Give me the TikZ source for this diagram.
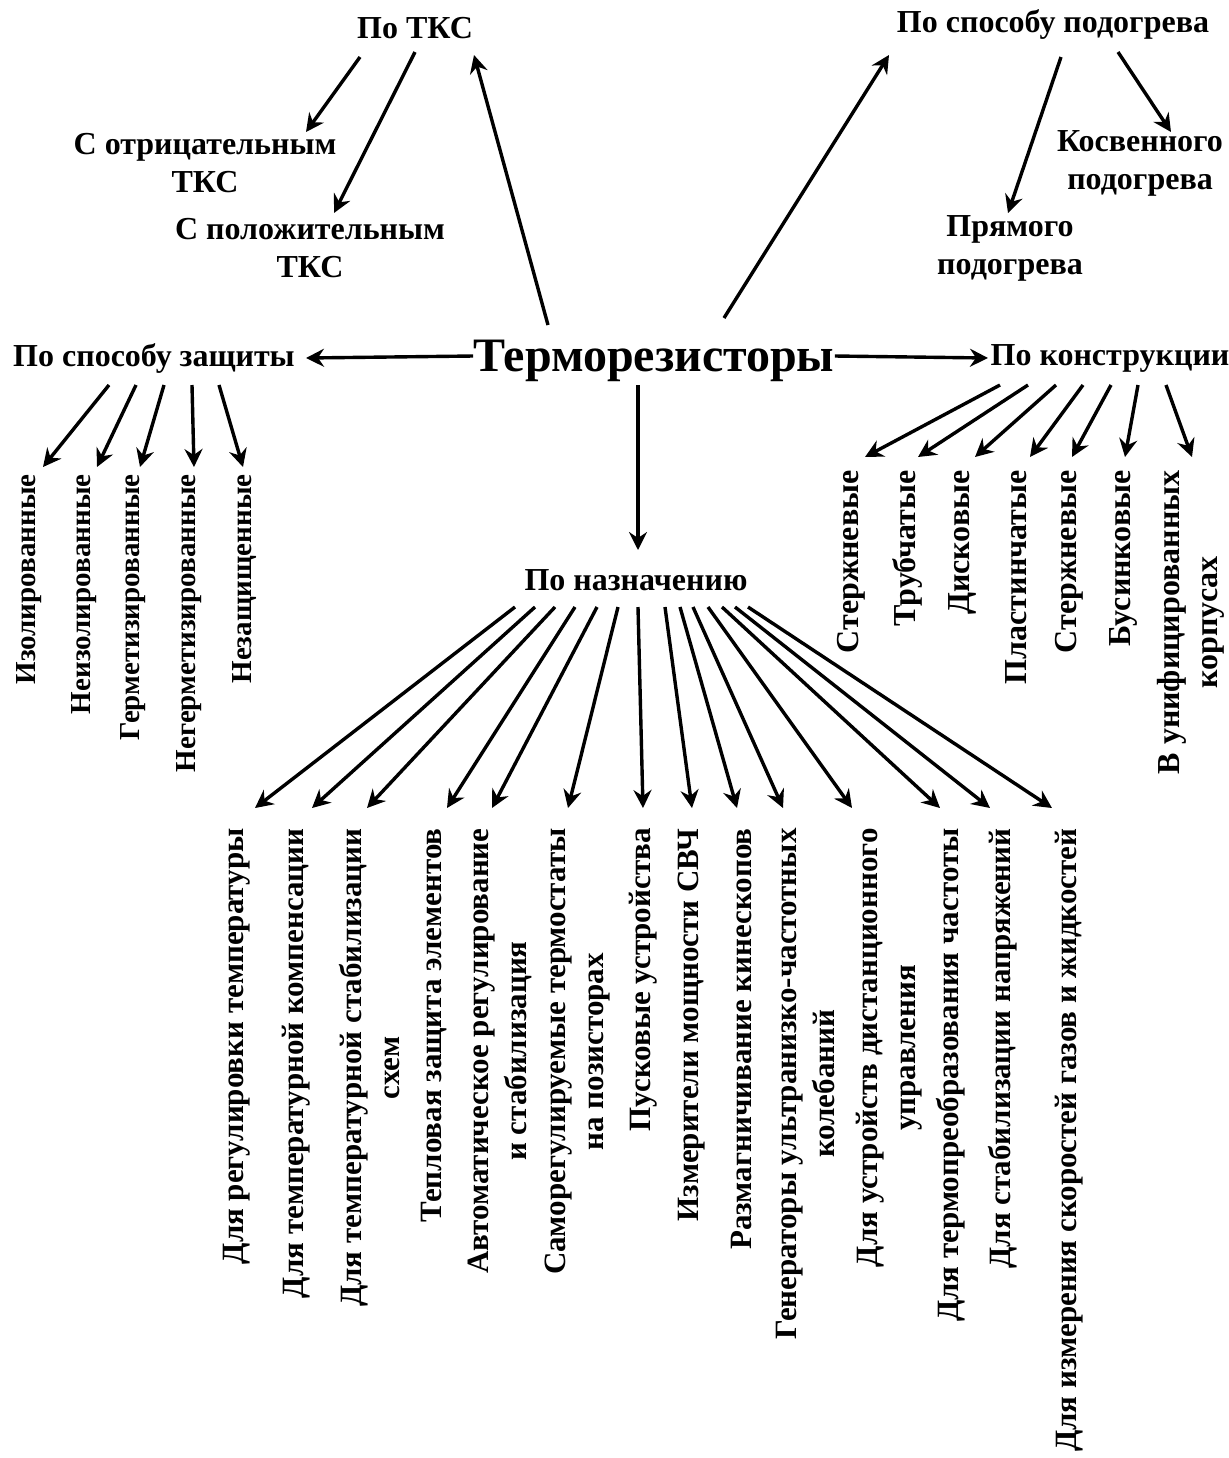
\documentclass[tikz,border=0pt]{standalone}
\usepackage{fontspec}
\setmainfont{Liberation Serif}
\usetikzlibrary{arrows.meta}

\begin{document}
\begin{tikzpicture}[
    x=0.5pt, y=-0.5pt,
    root/.style={font=\bfseries\fontsize{24}{29}\selectfont, inner sep=0pt},
    cat/.style={font=\bfseries\fontsize{16}{19}\selectfont, inner sep=0pt, align=center},
    leaf/.style={font=\bfseries\fontsize{16}{19}\selectfont, inner sep=0pt, align=center, rotate=90, anchor=east},
    arrow/.style={-{Stealth[length=9pt, width=9pt, inset=3pt]}, line width=1.7pt}
]
\useasboundingbox (0,0) rectangle (1228,1458);

% Main nodes
\node[root] (term) at (654,361) {Терморезисторы};
\node[cat] (ptks) at (415,28) {По ТКС};
\node[cat] (podogr) at (1053,24) {По способу подогрева};
\node[cat] (zasch) at (154,358) {По способу защиты};
\node[cat] (konstr) at (1110,358) {По конструкции};
\node[cat] (nazn) at (636,580) {По назначению};

% TKS and heating
\node[cat] (neg) at (205,163) {С отрицательным\\ТКС};
\node[cat] (pos) at (310,248) {С положительным\\ТКС};
\node[cat] (kosv) at (1140,163) {Косвенного\\подогрева};
\node[cat] (pryam) at (1010,248) {Прямого\\подогрева};

% Arrows from the root
\draw[arrow] ([shift={(-106,-36)}]term.center) -- ([shift={(59,27)}]ptks.center);
\draw[arrow] ([shift={(70,-43)}]term.center) -- ([shift={(-164,31)}]podogr.center);
\draw[arrow] ([shift={(0,-5)}]term.west) -- ([shift={(152,0)}]zasch.center);
\draw[arrow] ([shift={(0,-5)}]term.east) -- ([shift={(-122,0)}]konstr.center);
\draw[arrow] ([shift={(-16,24)}]term.center) -- ([shift={(2,-30)}]nazn.center);

% Arrows to the second level
\draw[arrow] ([shift={(-55,29)}]ptks.center) -- ([shift={(101,-31)}]neg.center);
\draw[arrow] ([shift={(0,24)}]ptks.center) -- ([shift={(24,-35)}]pos.center);
\draw[arrow] ([shift={(8,33)}]podogr.center) -- ([shift={(-2,-35)}]pryam.center);
\draw[arrow] ([shift={(65,28)}]podogr.center) -- ([shift={(31,-31)}]kosv.center);

% Protection
\foreach \n/\lx/\s/\t/\txt in {z1/29/109/43/Изолированные, z2/84/136/97/Неизолированные,
    z3/133/164/140/Герметизированные, z4/189/192/194/Негерметизированные,
    z5/245/219/243/Незащищенные}
{
  \node[leaf, font=\bfseries\fontsize{14.5}{17}\selectfont] (\n) at (\lx,474) {\txt};
  \draw[arrow] ([shift={(\s-154,27)}]zasch.center) -- ([shift={(\t-\lx,-7)}]\n.east);
}

% Construction
\foreach \n/\lx/\s/\t/\txt in {k1/851/1000/865/Стержневые, k2/907/1028/918/Трубчатые,
    k3/962/1056/975/Дисковые, k4/1016/1083/1030/Пластинчатые,
    k5/1069/1111/1072/Стержневые, k6/1123/1138/1125/Бусинковые,
    k7/1191/1166/1192/{В унифицированных\\корпусах}}
{
  \node[leaf] (\n) at (\lx,470) {\txt};
  \draw[arrow] ([shift={(\s-1110,27)}]konstr.center) -- ([shift={(\t-\lx,-13)}]\n.east);
}

% Purpose
\foreach \n/\lx/\s/\t/\txt in {d1/237/515/255/Для регулировки температуры,
    d2/296/535/312/Для температурной компенсации,
    d3/370/555/367/{Для температурной стабилизации\\схем},
    d4/434/575/447/Тепловая защита элементов,
    d5/500/597/492/{Автоматическое регулирование\\и стабилизация},
    d6/578/618/568/{Саморегулируемые термостаты\\на позисторах},
    d7/643/638/643/Пусковые устройства,
    d8/692/665/692/Измерители мощности СВЧ,
    d9/741/680/737/Размагничивание кинескопов,
    d10/805/693/783/{Генераторы ультранизко-частотных\\колебаний},
    d11/889/708/852/{Для устройств дистанционного\\управления},
    d12/951/722/940/Для термопреобразования частоты,
    d13/1003/735/990/Для стабилизации напряжений,
    d14/1069/748/1052/Для измерения скоростей газов и жидкостей}
{
  \node[leaf, font=\bfseries\fontsize{15.5}{19}\selectfont] (\n) at (\lx,828) {\txt};
  \draw[arrow] ([shift={(\s-636,27)}]nazn.center) -- ([shift={(\t-\lx,-20)}]\n.east);
}

\end{tikzpicture}
\end{document}
